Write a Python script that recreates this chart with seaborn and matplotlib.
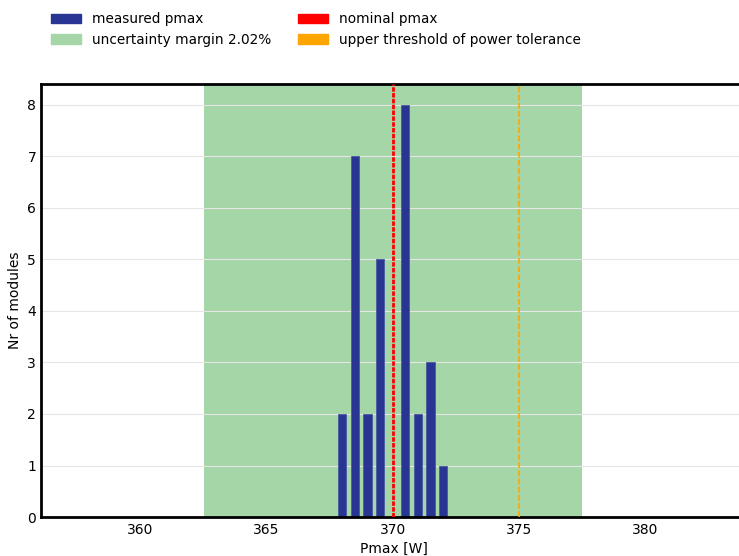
import numpy as np
import pandas as pd
import matplotlib
matplotlib.use("Agg")
import matplotlib.pyplot as plt
from matplotlib.patches import Patch
import seaborn as sns

# dados
pmax_values = [368.0, 368.5, 369.0, 369.5, 370.5, 371.0, 371.5, 372.0]
module_counts = [2, 7, 2, 5, 8, 2, 3, 1]
nominal_pmax = 370.0
upper_tolerance = 375.0
uncertainty_pct = 2.02

bar_color = "#283593"
margin_color = "#a5d6a7"

df = pd.DataFrame({"pmax": pmax_values, "count": module_counts})

sns.set_style("whitegrid")
plt.rcParams["font.family"] = ["DejaVu Sans"]
plt.rcParams["text.color"] = "black"
plt.rcParams["axes.labelcolor"] = "black"
plt.rcParams["xtick.color"] = "black"
plt.rcParams["ytick.color"] = "black"

fig = plt.figure(figsize=(7.39, 5.56), dpi=100)
ax = fig.add_axes([0.0555, 0.070, 0.955, 0.779])

# faixa de incerteza em torno do valor nominal
margin = nominal_pmax * uncertainty_pct / 100
ax.axvspan(nominal_pmax - margin, nominal_pmax + margin, color=margin_color, zorder=0, lw=0)

sns.barplot(data=df, x="pmax", y="count", native_scale=True, width=0.66,
            color=bar_color, saturation=1, edgecolor="#4a5aa0", linewidth=0.6,
            ax=ax, zorder=2)

ax.axvline(nominal_pmax, color="red", linestyle=(0, (1.6, 0.5)), linewidth=2, zorder=3)
ax.axvline(upper_tolerance, color="orange", linestyle=(0, (3.5, 1.4)), linewidth=1.2, zorder=3)

ax.set_xlim(356.1, 384.0)
ax.set_ylim(0, 8.4)
ax.set_xticks([360, 365, 370, 375, 380])
ax.set_yticks(range(0, 9))
ax.grid(axis="x", visible=False)
ax.grid(axis="y", color="#e6e6e6", linewidth=0.8)
ax.set_axisbelow(True)
ax.set_xlabel("Pmax [W]", fontsize=10, labelpad=3)
ax.set_ylabel("Nr of modules", fontsize=10, labelpad=4)
ax.tick_params(axis="x", labelsize=10, pad=1)
ax.tick_params(axis="y", labelsize=10, pad=0)

for side in ["left", "top", "bottom"]:
    ax.spines[side].set_color("black")
    ax.spines[side].set_linewidth(2)
ax.spines["right"].set_visible(False)

handles = [
    Patch(color=bar_color, label="measured pmax"),
    Patch(color=margin_color, label=f"uncertainty margin {uncertainty_pct:.2f}%"),
    Patch(color="red", label="nominal pmax"),
    Patch(color="orange", label="upper threshold of power tolerance"),
]
fig.legend(handles=handles, loc="upper left", bbox_to_anchor=(0.052, 1.0), ncol=2,
           frameon=False, fontsize=9.8, handlelength=2.2, handleheight=0.75,
           columnspacing=2.0, handletextpad=0.8, labelspacing=0.5)

fig.savefig("out.png", dpi=100)
